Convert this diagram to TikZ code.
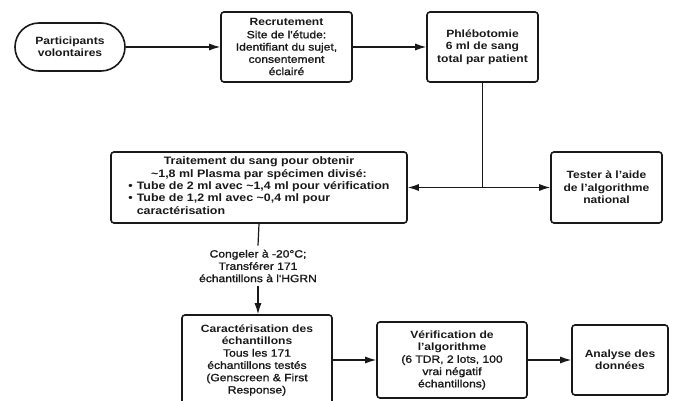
\documentclass[tikz,border=0pt]{standalone}
\usepackage{fontspec}
\setmainfont[FakeStretch=1.15]{Liberation Sans}
\newfontfamily\medfont[FakeStretch=1.15, FakeBold=1.3]{Liberation Sans}
\usetikzlibrary{arrows.meta}
\begin{document}
\begin{tikzpicture}[x=1pt,y=-1pt,
  box/.style={draw=black!90, line width=1.6pt, rounded corners=3pt, align=center, inner sep=2pt,
    text=black!90, font=\fontsize{10.5}{12.3}\selectfont},
  lbl/.style={align=center, inner sep=4pt, text=black!90, font=\fontsize{10.5}{12.3}\selectfont\medfont},
  arr/.style={draw=black!90, line width=1.2pt, -{Latex[length=11pt,width=7pt]}},
  ln/.style={draw=black!90, line width=1.2pt}]
\useasboundingbox (0,0) rectangle (681,401);

\node[box, minimum width=110pt, minimum height=48pt, rounded corners=24pt] (part) at (70,47)
  {\bfseries Participants\\\bfseries volontaires};
\node[box, minimum width=131pt, minimum height=70pt] (rec) at (286.5,47)
  {\textbf{Recrutement}\\\medfont Site de l'étude:\\\medfont Identifiant du sujet,\\\medfont consentement\\\medfont éclairé};
\node[box, minimum width=111pt, minimum height=70pt] (phl) at (482.5,47)
  {\bfseries Phlébotomie\\\bfseries 6 ml de sang\\\bfseries total par patient};
\node[box, minimum width=296pt, minimum height=71pt, font=\fontsize{10.8}{12.3}\selectfont\bfseries] (trt) at (259,187.5)
  {Traitement du sang pour obtenir\\
   \textasciitilde1,8 ml Plasma par spécimen divisé:\\
   \begin{tabular}[t]{@{}l@{\hspace{4pt}}l@{}}
   \textbullet & Tube de 2 ml avec \textasciitilde1,4 ml pour vérification\\
   \textbullet & Tube de 1,2 ml avec \textasciitilde0,4 ml pour\\
   & caractérisation
   \end{tabular}};
\node[box, minimum width=111pt, minimum height=71pt] (tst) at (606.5,187.5)
  {\bfseries Tester à l'aide\\\bfseries de l'algorithme\\\bfseries national};
\node[lbl] (cong) at (258,266)
  {Congeler à -20°C;\\Transférer 171\\échantillons à l'HGRN};
\node[box, minimum width=150pt, minimum height=90pt] (car) at (257,360)
  {\textbf{Caractérisation des}\\\textbf{échantillons}\\\medfont Tous les 171\\\medfont échantillons testés\\\medfont (Genscreen \& First\\\medfont Response)};
\node[box, minimum width=150pt, minimum height=76pt] (ver) at (452,360)
  {\textbf{Vérification de}\\\textbf{l'algorithme}\\\medfont (6 TDR, 2 lots, 100\\\medfont vrai négatif\\\medfont échantillons)};
\node[box, minimum width=96pt, minimum height=70pt] (ana) at (620,360)
  {\bfseries Analyse des\\\bfseries données};

\draw[arr] (part) -- (rec);
\draw[arr] (rec) -- (phl);
\coordinate (j) at (phl.south |- trt.east);
\draw[ln] (phl.south) -- (j);
\draw[arr] (j) -- (trt.east);
\draw[arr] (j) -- (tst.west);
\draw[ln] (trt.south) -- (cong.north);
\draw[arr] (cong.south) -- (cong.south |- car.north);
\draw[arr] (car) -- (ver);
\draw[arr] (ver) -- (ana);
\end{tikzpicture}
\end{document}
